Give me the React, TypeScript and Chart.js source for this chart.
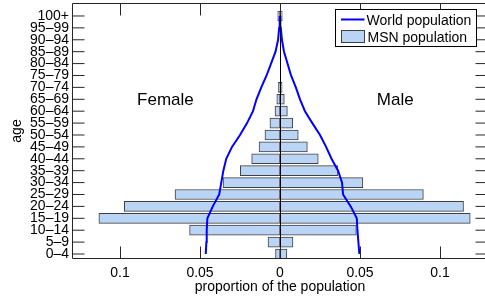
import React, { useEffect, useRef } from 'react';
import { Chart, registerables } from 'chart.js';

Chart.register(...registerables);

const ageGroups = ['0–4', '5–9', '10–14', '15–19', '20–24', '25–29', '30–34', '35–39', '40–44', '45–49', '50–54', '55–59', '60–64', '65–69', '70–74', '75–79', '80–84', '85–89', '90–94', '95–99', '100+'];
const msnFemale = [0.0028, 0.0075, 0.0565, 0.1132, 0.0973, 0.0656, 0.0356, 0.0248, 0.0177, 0.0131, 0.0094, 0.0063, 0.0031, 0.002, 0.001, 0, 0, 0, 0, 0, 0.0014];
const msnMale = [0.0043, 0.0081, 0.0477, 0.1189, 0.1147, 0.0896, 0.0518, 0.0362, 0.0239, 0.0171, 0.0114, 0.0079, 0.0046, 0.0027, 0.0013, 0, 0, 0, 0, 0, 0.0014];
const worldFemale = [0.0464, 0.046, 0.0458, 0.0454, 0.042, 0.038, 0.0367, 0.0354, 0.0336, 0.03, 0.025, 0.0206, 0.0169, 0.0147, 0.0117, 0.0084, 0.0056, 0.0028, 0.0012, 0.0005, 0.0002];
const worldMale = [0.0496, 0.049, 0.0484, 0.048, 0.0442, 0.0394, 0.0388, 0.0363, 0.0322, 0.0288, 0.025, 0.0202, 0.0156, 0.0125, 0.0099, 0.0069, 0.0047, 0.0025, 0.0012, 0.0005, 0.0002];
const xTickValues = [-0.1, -0.05, 0, 0.05, 0.1];
const sideLabels = ['Female', 'Male'];
const legendLabels = ['World population', 'MSN population'];

const FONT = 'Liberation Sans, Arial, sans-serif';
const BAR_FILL = '#bad4f5';
const BAR_EDGE = '#404040';
const LINE_BLUE = '#0000ff';
const AXIS = '#262626';

const overlayPlugin = {
  id: 'overlay',
  afterDraw(chart: any) {
    const { ctx, chartArea: a, scales } = chart;
    const xs = scales.x;
    const ys = scales.y;
    ctx.save();
    ctx.lineWidth = 1;
    ctx.strokeStyle = '#000';
    // centre line at zero
    const x0 = Math.round(xs.getPixelForValue(0)) + 0.5;
    ctx.beginPath();
    ctx.moveTo(x0, a.top);
    ctx.lineTo(x0, a.bottom);
    ctx.stroke();
    // frame
    ctx.strokeStyle = AXIS;
    const L = Math.round(a.left) + 0.5;
    const T = Math.round(a.top) + 0.5;
    const B = Math.round(a.bottom) - 0.5;
    const R = Math.round(a.right) - 0.5;
    ctx.beginPath();
    ctx.moveTo(L, B);
    ctx.lineTo(L, T);
    ctx.lineTo(R, T);
    ctx.lineTo(R, B);
    ctx.lineTo(L, B);
    ctx.stroke();
    // inward ticks
    const tl = 12;
    ctx.beginPath();
    ys.ticks.forEach((t: any) => {
      const py = ys.getPixelForValue(t.value);
      ctx.moveTo(L, py);
      ctx.lineTo(L + tl, py);
      ctx.moveTo(R, py);
      ctx.lineTo(R - tl, py);
    });
    xs.ticks.forEach((t: any) => {
      const px = Math.round(xs.getPixelForValue(t.value)) + 0.5;
      ctx.moveTo(px, B);
      ctx.lineTo(px, B - tl);
      ctx.moveTo(px, T);
      ctx.lineTo(px, T + tl);
    });
    ctx.stroke();
    // Female / Male labels
    ctx.fillStyle = '#000';
    ctx.font = `17px ${FONT}`;
    ctx.textAlign = 'center';
    ctx.textBaseline = 'middle';
    const ly = ys.getPixelForValue(12.94);
    ctx.fillText(sideLabels[0], xs.getPixelForValue(-0.0716), ly);
    ctx.fillText(sideLabels[1], xs.getPixelForValue(0.072), ly);
    // legend
    const bx = a.right - 152.5;
    const by = 9.5;
    const bw = 141;
    const bh = 37;
    ctx.fillStyle = '#fff';
    ctx.fillRect(bx, by, bw, bh);
    ctx.strokeStyle = '#000';
    ctx.strokeRect(bx, by, bw, bh);
    ctx.strokeStyle = LINE_BLUE;
    ctx.lineWidth = 2;
    ctx.beginPath();
    ctx.moveTo(bx + 5.5, 19.5);
    ctx.lineTo(bx + 29, 19.5);
    ctx.stroke();
    ctx.lineWidth = 1;
    ctx.fillStyle = BAR_FILL;
    ctx.fillRect(bx + 6, 30.5, 23, 12);
    ctx.strokeStyle = BAR_EDGE;
    ctx.strokeRect(bx + 6, 30.5, 23, 12);
    ctx.fillStyle = '#000';
    ctx.font = `14px ${FONT}`;
    ctx.textAlign = 'left';
    ctx.textBaseline = 'alphabetic';
    ctx.fillText(legendLabels[0], bx + 31, 25);
    ctx.fillText(legendLabels[1], bx + 32, 41.5);
    ctx.restore();
  },
};

export default function App() {
  const ref = useRef<HTMLCanvasElement>(null);
  useEffect(() => {
    if (!ref.current) return;
    const toPts = (arr: number[], sign: number) => arr.map((v, i) => ({ x: sign * v, y: i }));
    const lineDs = (label: string, arr: number[], sign: number) => ({
      type: 'line' as const,
      label,
      data: toPts(arr, sign),
      indexAxis: 'y' as const,
      borderColor: LINE_BLUE,
      borderWidth: 2,
      pointRadius: 0,
      tension: 0,
      fill: false,
      order: 0,
    });
    const barDs = (label: string, arr: number[], sign: number) => ({
      type: 'bar' as const,
      label,
      data: toPts(arr, sign),
      backgroundColor: BAR_FILL,
      borderColor: BAR_EDGE,
      borderWidth: 1,
      borderSkipped: false,
      grouped: false,
      barThickness: 10,
      order: 1,
    });
    const chart = new Chart(ref.current, {
      type: 'bar',
      data: {
        datasets: [
          lineDs('World population', worldFemale, -1),
          lineDs('World population (male)', worldMale, 1),
          barDs('MSN population', msnFemale, -1),
          barDs('MSN population (male)', msnMale, 1),
        ] as any,
      },
      options: {
        indexAxis: 'y',
        responsive: false,
        animation: false,
        layout: { padding: { top: 3, right: 12, left: 0, bottom: 0 } },
        plugins: { legend: { display: false }, tooltip: { enabled: false } },
        scales: {
          x: {
            type: 'linear',
            position: 'bottom',
            min: -0.13,
            max: 0.13,
            offset: false,
            grid: { display: false, drawTicks: false },
            border: { display: false },
            afterBuildTicks: (s: any) => {
              s.ticks = xTickValues.map((v) => ({ value: v }));
            },
            ticks: {
              callback: (v: any) => String(Math.abs(Number(v))),
              font: { family: FONT, size: 14 },
              color: '#000',
              padding: 6,
              maxRotation: 0,
              autoSkip: false,
            },
            title: {
              display: true,
              text: 'proportion of the population',
              font: { family: FONT, size: 14 },
              color: '#000',
              padding: { top: 0, bottom: 1.5 },
            },
            afterFit: (s: any) => {
              s.height = 38;
              s.paddingLeft = 0;
              s.paddingRight = 0;
            },
          } as any,
          y: {
            type: 'linear',
            position: 'left',
            min: -0.42,
            max: 21.09,
            offset: false,
            grid: { display: false, drawTicks: false, offset: false },
            border: { display: false },
            afterBuildTicks: (s: any) => {
              s.ticks = ageGroups.map((_, i) => ({ value: i }));
            },
            ticks: {
              callback: (v: any) => ageGroups[Number(v)],
              font: { family: FONT, size: 14 },
              color: '#000',
              padding: 3,
              autoSkip: false,
            },
            title: {
              display: true,
              text: 'age',
              font: { family: FONT, size: 14 },
              color: '#000',
              padding: { top: 9, bottom: 0 },
            },
            afterFit: (s: any) => {
              s.width = 72;
              s.paddingTop = 0;
              s.paddingBottom = 0;
            },
          } as any,
        },
      },
      plugins: [overlayPlugin],
    });
    return () => chart.destroy();
  }, []);
  return (
    <div style={{ position: 'fixed', left: 0, top: 0, width: 485, height: 297, overflow: 'hidden', background: '#fff' }}>
      <canvas ref={ref} width={500} height={297} style={{ display: 'block', width: 500, height: 297 }} />
    </div>
  );
}
